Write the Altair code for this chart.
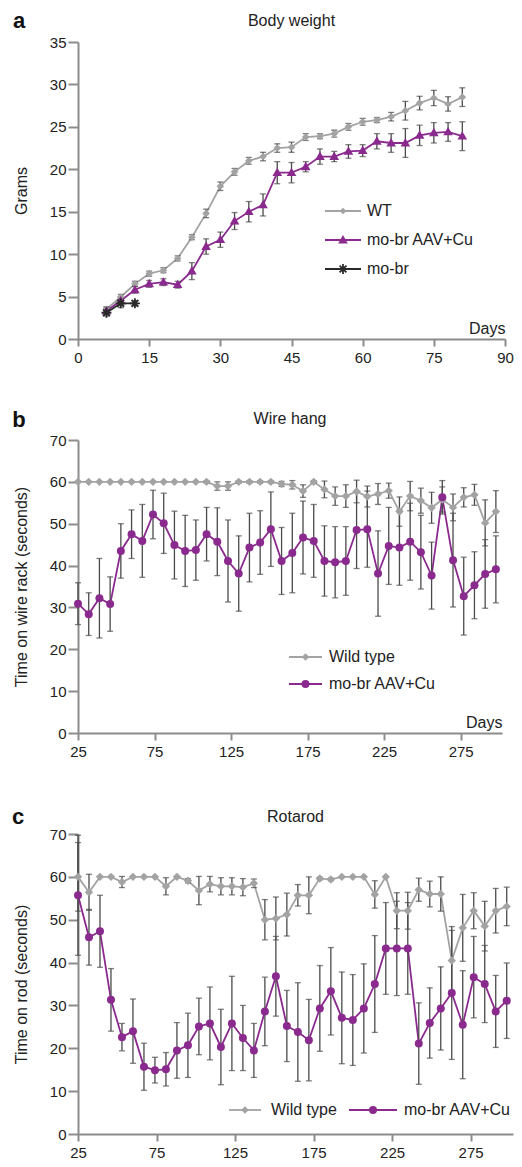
import altair as alt
import pandas as pd

# ---------------- data ----------------
panel_letters = ["a", "b", "c"]
panel_titles = ["Body weight", "Wire hang", "Rotarod"]

# Panel a: body weight (grams) vs days
days_a = [6, 9, 12, 15, 18, 21, 24, 27, 30, 33, 36, 39, 42, 45, 48, 51, 54, 57, 60, 63, 66, 69, 72, 75, 78, 81]
wt_a = [3.5, 4.95, 6.5, 7.7, 8.1, 9.5, 12.0, 14.8, 18.0, 19.7, 21.0, 21.5, 22.5, 22.6, 23.8, 23.9, 24.2, 25.0,
        25.6, 25.8, 26.2, 26.9, 27.8, 28.4, 27.7, 28.5]
wt_a_err = [0.3, 0.3, 0.3, 0.3, 0.3, 0.3, 0.3, 0.5, 0.5, 0.4, 0.4, 0.5, 0.5, 0.6, 0.4, 0.3, 0.4, 0.4,
            0.4, 0.3, 0.5, 1.1, 0.8, 0.9, 0.85, 1.1]
aav_a = [3.3, 4.5, 5.8, 6.5, 6.7, 6.4, 8.0, 10.9, 11.7, 13.9, 15.0, 15.8, 19.6, 19.6, 20.3, 21.5, 21.5, 22.1,
         22.2, 23.3, 23.1, 23.1, 24.0, 24.3, 24.4, 23.9]
aav_a_err = [0.4, 0.4, 0.4, 0.4, 0.4, 0.4, 1.0, 0.9, 0.9, 1.0, 1.2, 1.3, 1.3, 1.2, 0.6, 0.9, 0.6, 0.8,
             0.7, 0.9, 1.1, 1.7, 1.2, 1.2, 1.1, 1.7]
mobr_days = [6, 9, 12]
mobr_a = [3.1, 4.2, 4.2]
mobr_a_err = [0.4, 0.5, 0.3]

# Panels b and c: weekly days
days_bc = [25, 32, 39, 46, 53, 60, 67, 74, 81, 88, 95, 102, 109, 116, 123, 130, 137, 144, 151, 158,
           165, 172, 179, 186, 193, 200, 207, 214, 221, 228, 235, 242, 249, 256, 263, 270, 277, 284, 291, 298]

# Panel b: wire hang (seconds)
wt_b = [60, 60, 60, 60, 60, 60, 60, 60, 60, 60, 60, 60, 60, 59.0, 59.0, 60, 60, 60, 60, 59.5,
        59.3, 57.8, 60, 58.2, 56.6, 56.6, 57.7, 56.5, 57.1, 57.9, 52.9, 56.6, 55.5, 53.8, 55.8, 53.9, 56.3, 56.9, 50.2, 52.9]
wt_b_err = [0, 0, 0, 0, 0, 0, 0, 0, 0, 0, 0, 0, 0.3, 1.0, 1.0, 0.3, 0.3, 0.3, 0.3, 0.6,
            1.0, 1.5, 0.3, 2.0, 2.2, 2.7, 2.7, 2.5, 2.5, 1.8, 3.5, 3.5, 3.0, 3.7, 3.0, 3.2, 2.3, 2.5, 5.5, 5.0]
aav_b = [30.9, 28.4, 32.2, 30.8, 43.5, 47.5, 45.9, 52.2, 50.1, 44.9, 43.5, 43.7, 47.5, 45.7, 41.1, 38.1, 44.3, 45.5, 48.7, 41.1,
         43.0, 46.7, 45.9, 41.1, 40.8, 41.1, 48.5, 48.7, 38.1, 44.7, 44.3, 45.7, 43.2, 37.6, 56.3, 41.3, 32.7, 35.3, 38.0, 39.1]
aav_b_err = [5.0, 5.1, 9.5, 6.5, 6.5, 5.8, 8.7, 5.8, 7.2, 8.1, 8.5, 7.2, 6.4, 8.1, 9.8, 9.0, 8.2, 7.6, 8.9, 8.0,
             9.5, 8.7, 8.7, 8.4, 8.5, 8.2, 9.2, 9.1, 10.2, 9.2, 9.0, 9.2, 8.8, 8.0, 4.0, 11.2, 9.3, 8.0, 8.2, 8.0]

# Panel c: rotarod (seconds)
wt_c = [60, 56.4, 60, 60, 58.8, 60, 60, 60, 57.8, 60, 59.1, 56.8, 58.3, 57.8, 57.8, 57.6, 58.5, 50.0, 50.3, 51.2,
        55.7, 55.7, 59.6, 59.4, 60, 60, 60, 55.9, 60, 52.1, 52.1, 57.0, 56.0, 56.0, 40.5, 48.1, 52.1, 48.5, 52.1, 53.1]
wt_c_err = [8.0, 4.2, 0, 0, 1.3, 0, 0, 0, 2.0, 0, 0.5, 3.3, 1.8, 2.0, 2.0, 2.0, 1.0, 4.7, 5.0, 5.0,
            2.5, 4.3, 0.3, 0.3, 0, 0, 0, 3.2, 0, 4.2, 4.3, 2.7, 3.0, 4.0, 7.0, 7.8, 4.2, 5.8, 5.2, 4.5]
aav_c = [55.7, 45.9, 47.3, 31.3, 22.6, 24.0, 15.7, 14.9, 15.1, 19.5, 20.7, 25.1, 25.8, 20.3, 25.8, 22.4, 19.5, 28.6, 36.8, 25.2,
         23.8, 21.9, 29.3, 33.3, 27.1, 26.6, 29.3, 35.0, 43.3, 43.3, 43.3, 21.1, 25.9, 29.3, 32.9, 25.5, 36.6, 35.0, 28.6, 31.1]
aav_c_err = [14.0, 6.5, 8.4, 7.3, 3.2, 7.5, 5.5, 3.0, 3.9, 6.5, 7.5, 6.6, 8.5, 8.8, 11.0, 7.6, 6.3, 8.0, 9.3, 8.3,
             11.5, 9.5, 10.0, 10.2, 10.7, 10.6, 10.4, 11.3, 10.7, 11.0, 10.7, 9.5, 8.2, 9.7, 15.5, 12.6, 9.5, 9.0, 8.4, 8.8]

series_a = ["WT", "mo-br AAV+Cu", "mo-br"]
series_bc = ["Wild type", "mo-br AAV+Cu"]

GRAY = "#a3a3a3"
PURPLE = "#8b2a8e"
BLACK = "#2a2a2a"
ERR = "#4a4a4a"
FONT = "Liberation Sans"

# marker shapes (unit paths, drawn at size 64 -> 4 px per unit)
DIAMOND_A = "M0,-0.95L0.95,0L0,0.95L-0.95,0Z"
TRIANGLE_A = "M0,-1.25L1.2,0.85L-1.2,0.85Z"
STAR_A = ("M-1.25,-0.22H1.25V0.22H-1.25Z"
          "M-0.22,-1.25H0.22V1.25H-0.22Z"
          "M-1.01,-0.69L-0.69,-1.01L1.01,0.69L0.69,1.01Z"
          "M-0.69,1.01L-1.01,0.69L0.69,-1.01L1.01,-0.69Z")
DIAMOND_BC = "M0,-1.05L1.05,0L0,1.05L-1.05,0Z"
CIRCLE_BC = "circle"


def long_df(series_names, days_list, values_list, errs_list):
    rows = []
    for name, days, vals, errs in zip(series_names, days_list, values_list, errs_list):
        for d, v, e in zip(days, vals, errs):
            rows.append({"series": name, "day": d, "value": v, "err": e, "lo": v - e, "hi": v + e})
    return pd.DataFrame(rows)


df_a = long_df(series_a, [days_a, days_a, mobr_days], [wt_a, aav_a, mobr_a], [wt_a_err, aav_a_err, mobr_a_err])
df_b = long_df(series_bc, [days_bc, days_bc], [wt_b, aav_b], [wt_b_err, aav_b_err])
df_c = long_df(series_bc, [days_bc, days_bc], [wt_c, aav_c], [wt_c_err, aav_c_err])


def legend_layers(order, colors, shapes, sizes, widths, pos):
    """pos: list of (x_line_start, x_line_end, y, x_text) in plot pixels, one per entry."""
    out = []
    for name, col, shp, sz, w, (x0, x1, y, xt) in zip(order, colors, shapes, sizes, widths, pos):
        d = alt.Chart(pd.DataFrame({"label": [name]}))
        out.append(d.mark_rule(color=col, strokeWidth=w).encode(
            x=alt.value(x0), x2=alt.value(x1), y=alt.value(y)))
        out.append(d.mark_point(filled=True, opacity=1, color=col, shape=shp, size=sz, strokeWidth=0).encode(
            x=alt.value((x0 + x1) / 2), y=alt.value(y)))
        out.append(d.mark_text(font=FONT, fontSize=16, color="#222222", align="left", baseline="middle").encode(
            text="label:N", x=alt.value(xt), y=alt.value(y)))
    return out


def panel(df, letter, title, title_y, order, colors, shapes,
          xdomain, xticks, xtitle, ydomain, yticks, ytitle, width, height,
          leg_pos, leg_sizes, leg_widths, letter_xy):
    xenc = alt.X("day:Q", scale=alt.Scale(domain=xdomain, nice=False, zero=False),
                 axis=alt.Axis(values=xticks, title=xtitle, titleX=width, titleY=-6,
                               titleAlign="right", titleBaseline="alphabetic", titleAnchor="end",
                               labelFlush=False))

    def yenc(field):
        return alt.Y(field, scale=alt.Scale(domain=ydomain, nice=False),
                     axis=alt.Axis(values=yticks, title=ytitle, titlePadding=20))

    col_scale = alt.Scale(domain=order, range=colors)
    base = alt.Chart(df)
    lines = base.mark_line(strokeWidth=1.8).encode(
        x=xenc, y=yenc("value:Q"),
        color=alt.Color("series:N", scale=col_scale, legend=None),
    )
    errbase = base.transform_filter("datum.err > 0")
    bars = errbase.mark_rule(color=ERR, strokeWidth=1.3).encode(
        x=xenc, y=yenc("lo:Q"), y2="hi:Q")
    cap_lo = errbase.mark_tick(color=ERR, orient="horizontal", size=6, thickness=1.3).encode(
        x=xenc, y=yenc("lo:Q"))
    cap_hi = errbase.mark_tick(color=ERR, orient="horizontal", size=6, thickness=1.3).encode(
        x=xenc, y=yenc("hi:Q"))
    pts = base.mark_point(filled=True, size=64, opacity=1, strokeWidth=0).encode(
        x=xenc, y=yenc("value:Q"),
        color=alt.Color("series:N", scale=col_scale, legend=None),
        shape=alt.Shape("series:N", scale=alt.Scale(domain=order, range=shapes), legend=None),
    )
    ann = alt.Chart(pd.DataFrame({"letter": [letter], "title": [title]}))
    lab = ann.mark_text(
        font=FONT, fontSize=22, fontWeight="bold", color="#111111", align="center", baseline="alphabetic"
    ).encode(text="letter:N", x=alt.value(letter_xy[0]), y=alt.value(letter_xy[1]))
    ttl = ann.mark_text(
        font=FONT, fontSize=16, color="#222222", align="center", baseline="middle"
    ).encode(text="title:N", x=alt.value(width / 2), y=alt.value(title_y))
    legs = legend_layers(order, colors, shapes, leg_sizes, leg_widths, leg_pos)
    return alt.layer(lines, bars, cap_lo, cap_hi, pts, lab, ttl, *legs).properties(width=width, height=height)


chart_a = panel(df_a, panel_letters[0], panel_titles[0], -21, series_a, [GRAY, PURPLE, BLACK],
                [DIAMOND_A, TRIANGLE_A, STAR_A],
                [0, 90], [0, 15, 30, 45, 60, 75, 90], "Days", [0, 35], [0, 5, 10, 15, 20, 25, 30, 35], "Grams",
                427, 297,
                [(247, 283, 169, 289), (247, 283, 198, 289), (247, 283, 227, 289)],
                [50, 64, 64], [1.8, 2.2, 2.2], (-59, -14))
chart_b = panel(df_b, panel_letters[1], panel_titles[1], -21, series_bc, [GRAY, PURPLE],
                [DIAMOND_BC, CIRCLE_BC],
                [25, 302], [25, 75, 125, 175, 225, 275], "Days", [0, 70], [0, 10, 20, 30, 40, 50, 60, 70],
                "Time on wire rack (seconds)",
                424, 293,
                [(211, 244, 217, 251), (211, 244, 244, 251)],
                [50, 64], [1.8, 2.2], (-59, -13))
chart_c = panel(df_c, panel_letters[2], panel_titles[2], -17, series_bc, [GRAY, PURPLE],
                [DIAMOND_BC, CIRCLE_BC],
                [25, 302], [25, 75, 125, 175, 225, 275], "", [0, 70], [0, 10, 20, 30, 40, 50, 60, 70],
                "Time on rod (seconds)",
                435, 300,
                [(151, 183, 276, 193), (271, 319, 276, 326)],
                [50, 64], [1.8, 2.2], (-60, -10))

chart = alt.vconcat(chart_a, chart_b, chart_c, spacing=101, bounds="flush").resolve_scale(
    color="independent", shape="independent"
).properties(
    padding={"left": 3, "top": 2, "right": 0, "bottom": 0}
).configure_view(stroke=None).configure_axis(
    grid=False, domainColor="#8c8c8c", domainWidth=2, tickColor="#8c8c8c", tickWidth=2,
    labelFont=FONT, labelFontSize=15, labelColor="#222222",
    titleFont=FONT, titleFontSize=16, titleFontWeight="normal", titleColor="#222222",
).configure_axisX(tickSize=7, labelPadding=4).configure_axisY(tickSize=10, labelPadding=2)

chart.save("out.html", embed_options={"renderer": "svg", "actions": False})
